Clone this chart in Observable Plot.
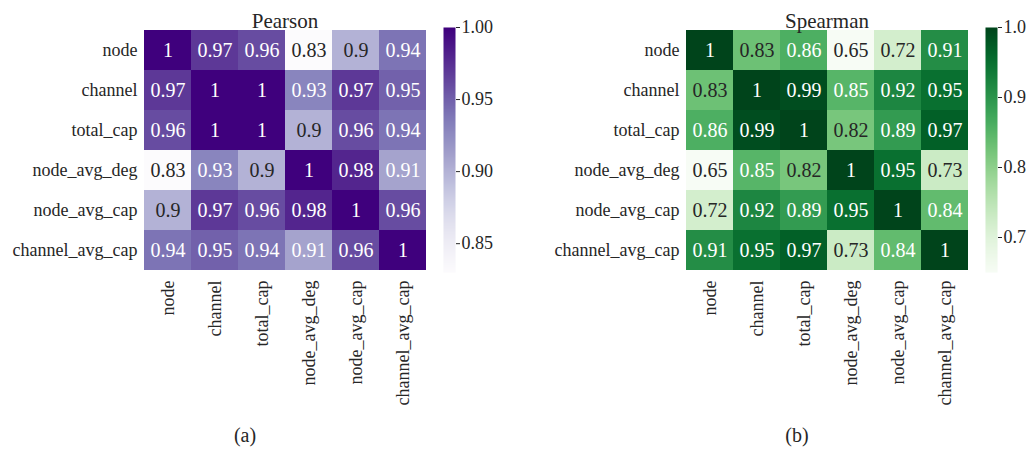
<!DOCTYPE html>
<html>
<head>
<meta charset="utf-8">
<script src="https://cdn.jsdelivr.net/npm/d3@7"></script>
<script src="https://cdn.jsdelivr.net/npm/@observablehq/plot@0.6"></script>
<style>
  html, body { margin: 0; padding: 0; background: #fff; }
  #root { position: relative; width: 1030px; height: 450px; overflow: hidden;
          font-family: "Liberation Serif", "Times New Roman", serif; color: #262626; }
  #root svg { position: absolute; top: 0; }
  #root svg text { font-family: "Liberation Serif", "Times New Roman", serif; }
  .cap { position: absolute; font-size: 20px; transform: translate(-50%, -50%); }
</style>
</head>
<body>
<div id="root"></div>
<script>
// Feature names (rows top-to-bottom, columns left-to-right)
const features = ["node", "channel", "total_cap", "node_avg_deg", "node_avg_cap", "channel_avg_cap"];

// Pearson correlation matrix
const pearson = [
  [1,    0.97, 0.96, 0.83, 0.9,  0.94],
  [0.97, 1,    1,    0.93, 0.97, 0.95],
  [0.96, 1,    1,    0.9,  0.96, 0.94],
  [0.83, 0.93, 0.9,  1,    0.98, 0.91],
  [0.9,  0.97, 0.96, 0.98, 1,    0.96],
  [0.94, 0.95, 0.94, 0.91, 0.96, 1]
];

// Spearman correlation matrix
const spearman = [
  [1,    0.83, 0.86, 0.65, 0.72, 0.91],
  [0.83, 1,    0.99, 0.85, 0.92, 0.95],
  [0.86, 0.99, 1,    0.82, 0.89, 0.97],
  [0.65, 0.85, 0.82, 1,    0.95, 0.73],
  [0.72, 0.92, 0.89, 0.95, 1,    0.84],
  [0.91, 0.95, 0.97, 0.73, 0.84, 1]
];

// Colorbar tick values
const pearsonTicks = [0.85, 0.90, 0.95, 1.00];
const spearmanTicks = [0.7, 0.8, 0.9, 1.0];

const root = document.getElementById("root");
const fmt = d3.format(".2~g");
const serif = "Liberation Serif, Times New Roman, serif";
const ink = "#262626";
const baseStyle = {fontFamily: serif, fontSize: "18px", color: ink,
                   background: "transparent", overflow: "visible"};

function cellsOf(matrix) {
  const out = [];
  matrix.forEach((row, i) => row.forEach((v, j) => out.push({row: features[i], col: features[j], value: v})));
  return out;
}

// Relative luminance, used to choose dark or white annotation text
function luminance(c) {
  const rgb = d3.rgb(c);
  const lin = (u) => { u /= 255; return u <= 0.03928 ? u / 12.92 : Math.pow((u + 0.055) / 1.055, 2.4); };
  return 0.2126 * lin(rgb.r) + 0.7152 * lin(rgb.g) + 0.0722 * lin(rgb.b);
}

function heatmap({matrix, scheme, title, left, marginLeft, ticks, tickFormat, barLeft}) {
  const cells = cellsOf(matrix);
  const domain = d3.extent(cells, (d) => d.value);
  const colorOpts = {type: "linear", scheme, domain};
  const colorScale = Plot.scale({color: colorOpts});
  const textFill = (v) => luminance(colorScale.apply(v)) > 0.408 ? ink : "#ffffff";

  const width = 440, frameW = 283;
  const chart = Plot.plot({
    width, height: 420,
    marginLeft, marginRight: width - marginLeft - frameW,
    marginTop: 27, marginBottom: 148,
    style: baseStyle,
    x: {domain: features, padding: 0, label: null},
    y: {domain: features, padding: 0, label: null},
    color: colorOpts,
    marks: [
      Plot.cell(cells, {x: "col", y: "row", fill: "value"}),
      Plot.text(cells, {x: "col", y: "row", text: (d) => fmt(d.value),
                        fill: (d) => textFill(d.value), fontSize: 20, fontFamily: serif}),
      Plot.axisX({tickRotate: -90, tickSize: 0, tickPadding: 8, fontSize: 18,
                  fontFamily: serif, fill: ink, label: null}),
      Plot.axisY({tickSize: 0, tickPadding: 6, fontSize: 18, fontFamily: serif, fill: ink, label: null}),
      Plot.text([title], {frameAnchor: "top", lineAnchor: "bottom", dy: 0,
                          fontSize: 21, fontFamily: serif, fill: ink})
    ]
  });
  chart.style.left = left + "px";
  root.appendChild(chart);

  // Vertical colorbar with its own axis on the right
  const bar = Plot.plot({
    width: 60, height: 420,
    marginLeft: 13, marginRight: 35, marginTop: 27, marginBottom: 148,
    style: baseStyle,
    x: {domain: [0, 1], axis: null},
    y: {domain, axis: null},
    color: colorOpts,
    marks: [
      Plot.raster({x1: 0, x2: 1, y1: domain[0], y2: domain[1], width: 1, height: 245,
                   fill: (x, y) => y, imageRendering: "auto"}),
      Plot.axisY({anchor: "right", ticks, tickFormat, tickSize: 4, tickPadding: 2,
                  fontSize: 18, fontFamily: serif, fill: ink, stroke: ink, label: null})
    ]
  });
  bar.style.left = barLeft + "px";
  root.appendChild(bar);
}

heatmap({matrix: pearson, scheme: "purples", title: "Pearson", left: 0, marginLeft: 143,
         ticks: pearsonTicks, tickFormat: ".2f", barLeft: 430});
heatmap({matrix: spearman, scheme: "greens", title: "Spearman", left: 540, marginLeft: 145,
         ticks: spearmanTicks, tickFormat: ".1f", barLeft: 972});

// Panel captions
for (const [txt, x] of [["(a)", 245], ["(b)", 797]]) {
  const d = document.createElement("div");
  d.className = "cap";
  d.textContent = txt;
  d.style.left = x + "px";
  d.style.top = "435px";
  root.appendChild(d);
}
</script>
</body>
</html>
